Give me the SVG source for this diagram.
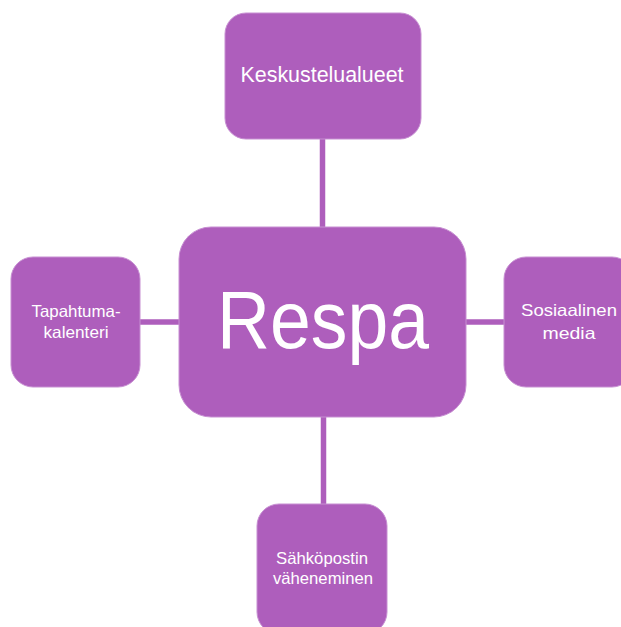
<svg xmlns="http://www.w3.org/2000/svg" width="621" height="627" viewBox="0 0 621 627">
<style>
.node{fill:#AE5EBC;stroke:#C78FD2;stroke-width:1}
.conn{stroke:#AE5EBC;stroke-width:5.5;fill:none}
text{font-family:"Liberation Sans",Arial,sans-serif;fill:#FFFFFF;text-anchor:middle}
.s{font-size:16.5px}
</style>
<rect width="621" height="627" fill="#FFFFFF"/>
<g id="connectors">
<line class="conn" x1="322.5" y1="139" x2="322.5" y2="227"/>
<line class="conn" x1="323.5" y1="417" x2="323.5" y2="504"/>
<line class="conn" x1="140" y1="322" x2="179" y2="322"/>
<line class="conn" x1="466" y1="322" x2="504" y2="322"/>
</g>
<g id="node-keskustelualueet">
<rect class="node" x="225" y="13" width="196" height="126" rx="21"/>
<text x="322" y="82" font-size="22" textLength="163" lengthAdjust="spacingAndGlyphs">Keskustelualueet</text>
</g>
<g id="node-respa">
<rect class="node" x="179" y="227" width="287" height="190" rx="32"/>
<text x="323" y="348" font-size="81" textLength="212" lengthAdjust="spacingAndGlyphs">Respa</text>
</g>
<g id="node-tapahtumakalenteri">
<rect class="node" x="11" y="257" width="129" height="130" rx="22"/>
<text class="s" x="76" y="317" textLength="89" lengthAdjust="spacingAndGlyphs">Tapahtuma-</text>
<text class="s" x="76" y="338" textLength="65" lengthAdjust="spacingAndGlyphs">kalenteri</text>
</g>
<g id="node-sosiaalinen">
<rect class="node" x="504" y="257" width="130" height="130" rx="22"/>
<text class="s" x="569" y="316" textLength="96" lengthAdjust="spacingAndGlyphs">Sosiaalinen</text>
<text class="s" x="569" y="339" textLength="53" lengthAdjust="spacingAndGlyphs">media</text>
</g>
<g id="node-sahkopostin">
<rect class="node" x="257" y="504" width="130" height="130" rx="22"/>
<text class="s" x="322" y="564" textLength="92" lengthAdjust="spacingAndGlyphs">Sähköpostin</text>
<text class="s" x="323" y="584" textLength="100" lengthAdjust="spacingAndGlyphs">väheneminen</text>
</g>
</svg>
